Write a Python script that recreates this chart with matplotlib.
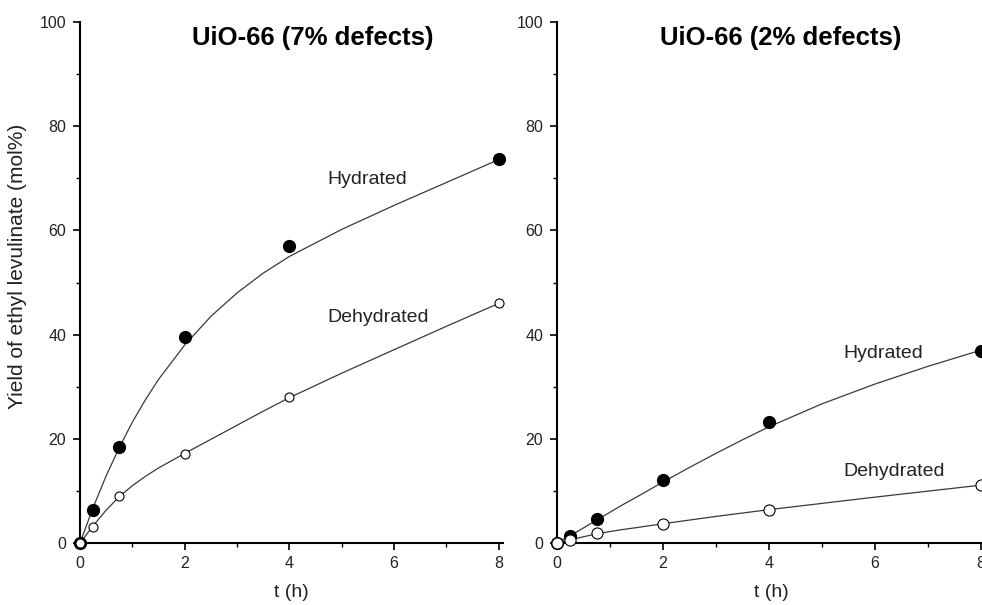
import matplotlib
matplotlib.use("Agg")
import matplotlib.pyplot as plt
from matplotlib.ticker import MultipleLocator

plt.rcParams['font.family'] = ['Liberation Sans', 'DejaVu Sans']

# ---- data ----
t_points = [0, 0.25, 0.75, 2, 4, 8]

hyd7 = [0, 6.3, 18.5, 39.5, 57.0, 73.8]
dehyd7 = [0, 3.0, 9.0, 17.0, 28.0, 46.0]
hyd2 = [0, 1.3, 4.7, 12.1, 23.3, 36.9]
dehyd2 = [0, 0.6, 1.85, 3.7, 6.4, 11.1]

# fitted curves
t_fit = [0, 0.25, 0.5, 0.75, 1, 1.25, 1.5, 2, 2.5, 3, 3.5, 4, 5, 6, 7, 8]
hyd7_fit = [0, 6.8, 12.9, 18.3, 23.2, 27.5, 31.4, 38.0, 43.5, 48.0, 51.8, 55.0, 60.2, 64.8, 69.2, 73.6]
dehyd7_fit = [0, 3.3, 6.3, 8.9, 11.0, 12.8, 14.4, 17.2, 19.9, 22.6, 25.3, 27.9, 32.6, 37.1, 41.6, 46.0]
hyd2_fit = [0, 1.4, 2.9, 4.4, 5.9, 7.4, 8.8, 11.7, 14.5, 17.2, 19.8, 22.3, 26.7, 30.5, 33.9, 37.0]
dehyd2_fit = [0, 0.6, 1.2, 1.75, 2.2, 2.6, 2.95, 3.7, 4.4, 5.1, 5.75, 6.4, 7.6, 8.8, 9.95, 11.1]

titles = ["UiO-66 (7% defects)", "UiO-66 (2% defects)"]
x_ticks = [0, 2, 4, 6, 8]
y_ticks = [0, 20, 40, 60, 80, 100]

W, H = 982, 605
fig = plt.figure(figsize=(W / 100, H / 100), dpi=100)

xmax = 8.08
ax1 = fig.add_axes([80 / W, 62 / H, 423 / W, 521 / H])
ax2 = fig.add_axes([557 / W, 62 / H, 428 / W, 521 / H])

panels = [
    (ax1, hyd7, dehyd7, hyd7_fit, dehyd7_fit, titles[0], 0.55,
     (4.73, 69.7), (4.73, 43.2), 6.5),
    (ax2, hyd2, dehyd2, hyd2_fit, dehyd2_fit, titles[1], 0.523,
     (5.4, 36.3), (5.4, 13.8), 8),
]

line_col = '#3a3a3a'
for ax, hy, de, hyf, def_, title, tx, hpos, dpos, open_ms in panels:
    ax.plot(t_fit, hyf, color=line_col, lw=0.9, zorder=2, clip_on=False)
    ax.plot(t_fit, def_, color=line_col, lw=0.9, zorder=2, clip_on=False)
    ax.plot(t_points, hy, 'o', color='black', ms=8.5, mec='black', zorder=3, clip_on=False)
    ax.plot(t_points, de, 'o', color='white', ms=open_ms, mec='black', mew=0.8, zorder=4, clip_on=False)

    ax.set_xlim(0, xmax)
    ax.set_ylim(0, 100)
    ax.set_xticks(x_ticks)
    ax.set_yticks(y_ticks)
    ax.xaxis.set_minor_locator(MultipleLocator(1))
    ax.yaxis.set_minor_locator(MultipleLocator(10))
    for s in ['top', 'right']:
        ax.spines[s].set_visible(False)
    for s in ['left', 'bottom']:
        ax.spines[s].set_linewidth(1.5)
        ax.spines[s].set_color('black')
    ax.tick_params(which='major', direction='out', length=5, width=1.2,
                   labelsize=11.5, colors='black', labelcolor='#222222')
    ax.tick_params(axis='x', which='major', pad=4)
    ax.tick_params(axis='y', which='major', pad=5)
    ax.tick_params(which='minor', direction='out', length=3, width=1.0, colors='black')
    ax.set_xlabel('t (h)', fontsize=14, color='#222222', labelpad=10)

    ax.text(tx, 0.969, title, transform=ax.transAxes, ha='center', va='center',
            fontsize=18.5, fontweight='bold', color='black')
    ax.text(hpos[0], hpos[1], 'Hydrated', fontsize=14, color='#222222', va='center', ha='left')
    ax.text(dpos[0], dpos[1], 'Dehydrated', fontsize=14, color='#222222', va='center', ha='left')

ax1.set_ylabel('Yield of ethyl levulinate (mol%)', fontsize=15, color='#222222')
ax1.yaxis.set_label_coords(-0.125, 0.53)

fig.savefig('out.png', dpi=100)
